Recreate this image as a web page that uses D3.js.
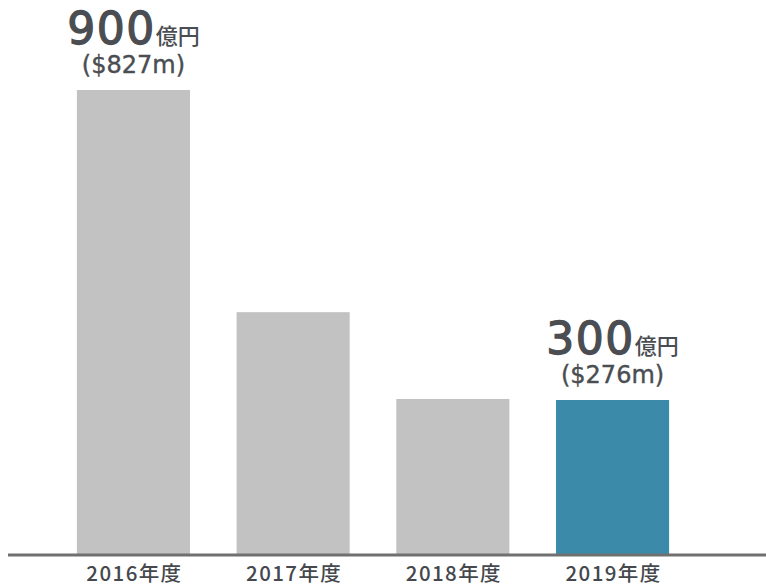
<!DOCTYPE html>
<html>
<head>
<meta charset="utf-8">
<script src="https://cdn.jsdelivr.net/npm/d3@7/dist/d3.min.js"></script>
<style>
  html, body { margin: 0; padding: 0; background: #ffffff; }
  svg { display: block; }
</style>
</head>
<body>
<svg id="chart" width="766" height="586"></svg>
<script>
// Fiscal-year revenue (億円) with USD equivalents for the labelled years
const years = ["2016年度", "2017年度", "2018年度", "2019年度"];
const values = [900, 470, 302, 300];
const usdLabels = ["($827m)", null, null, "($276m)"];
const yenLabels = ["900", null, null, "300"];
const highlightYear = "2019年度";

const width = 766, height = 586;
const baseY = 555;
const textColor = "#4a4d52";
const svg = d3.select("#chart");

const x = d3.scaleBand()
  .domain(years)
  .range([21, 725])
  .paddingInner(0.292)
  .paddingOuter(0.35);

const y = d3.scaleLinear()
  .domain([0, 900])
  .range([baseY, 90]);

// bars
svg.append("g")
  .selectAll("rect")
  .data(years)
  .join("rect")
  .attr("x", d => x(d))
  .attr("width", x.bandwidth())
  .attr("y", (d, i) => y(values[i]))
  .attr("height", (d, i) => y(0) - y(values[i]))
  .attr("fill", d => d === highlightYear ? "#3b8aa9" : "#c2c2c2");

// baseline
svg.append("line")
  .attr("x1", 8).attr("x2", width)
  .attr("y1", baseY).attr("y2", baseY)
  .attr("stroke", "#707070")
  .attr("stroke-width", 3);

// category axis
const axis = svg.append("g")
  .attr("transform", `translate(0,${baseY})`)
  .call(d3.axisBottom(x).tickSize(0).tickPadding(0));
axis.select(".domain").remove();
axis.selectAll("text")
  .attr("y", 26)
  .attr("dy", 0)
  .attr("dx", 1)
  .attr("font-family", "'Noto Sans CJK JP', sans-serif")
  .attr("font-weight", 500)
  .attr("font-size", 20.5)
  .attr("letter-spacing", 1.4)
  .attr("fill", "#45484d");

// value labels above the labelled bars
const labelled = years.map((d, i) => ({ year: d, v: values[i], yen: yenLabels[i], usd: usdLabels[i] }))
  .filter(d => d.yen);

const lg = svg.append("g")
  .selectAll("g")
  .data(labelled)
  .join("g")
  .attr("transform", d => `translate(${x(d.year) + x.bandwidth() / 2},${y(d.v)})`);

const main = lg.append("text")
  .attr("text-anchor", "middle")
  .attr("y", -46)
  .attr("fill", textColor)
  .attr("font-family", "'DejaVu Sans', 'Noto Sans CJK JP', sans-serif");
main.append("tspan")
  .attr("font-size", 44)
  .attr("letter-spacing", 1.5)
  .attr("stroke", textColor)
  .attr("stroke-width", 1.3)
  .text(d => d.yen);
main.append("tspan")
  .attr("font-family", "'Noto Sans CJK JP', sans-serif")
  .attr("font-size", 22)
  .attr("font-weight", 500)
  .text("億円");

lg.append("text")
  .attr("text-anchor", "middle")
  .attr("y", -17)
  .attr("fill", textColor)
  .attr("stroke", textColor)
  .attr("stroke-width", 0.4)
  .attr("font-family", "'DejaVu Sans', sans-serif")
  .attr("font-size", 24)
  .text(d => d.usd);
</script>
</body>
</html>
